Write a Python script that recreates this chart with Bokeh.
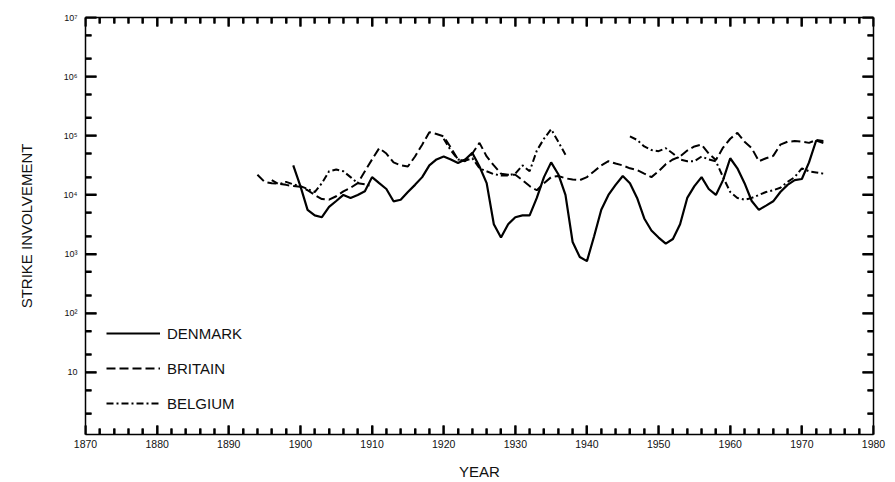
import math
from bokeh.plotting import figure
from bokeh.models import (FixedTicker, CustomJSTickFormatter, LinearAxis, LogAxis,
                          Legend, LegendItem, Range1d)
from bokeh.embed import file_html
from bokeh.resources import INLINE

# ---------------- data (strike involvement) ----------------
denmark_years = list(range(1899, 1974))
denmark_vals = [
    31600, 14100, 5600, 4500, 4200, 6300, 7900, 10000, 8900, 10000,   # 1899-1908
    11500, 20000, 15800, 12600, 7800, 8300, 11200, 14800, 20000, 31600,  # 1909-1918
    39800, 44700, 39800, 34700, 39800, 51300, 30200, 15800, 3200, 1900,  # 1919-1928
    3200, 4200, 4500, 4500, 8900, 20000, 35500, 22400, 10000, 1600,      # 1929-1938
    890, 760, 2000, 5600, 10000, 14800, 20900, 15800, 8900, 4000,        # 1939-1948
    2500, 1900, 1500, 1800, 3200, 8900, 14100, 20000, 12600, 10000,      # 1949-1958
    17800, 41700, 28200, 15800, 7900, 5600, 6600, 7800, 11200, 14800,    # 1959-1968
    17800, 18600, 35500, 83200, 75900,                                    # 1969-1973
]

britain_years = list(range(1894, 1974))
britain_vals = [
    21900, 16600, 15800, 15500, 14800, 14100,                             # 1894-1899
    13800, 12000, 10000, 8500, 8300, 9500, 11500, 13200, 15800, 25100,    # 1900-1909
    39800, 61700, 50100, 35500, 31600, 30200, 44700, 70800, 115000, 107000,  # 1910-1919
    97700, 63100, 39800, 37200, 50100, 75900, 44700, 31600, 22900, 21900,  # 1920-1929
    21900, 17800, 14100, 12000, 15800, 20000, 20900, 19100, 18200, 17800,  # 1930-1939
    20000, 25100, 31600, 37200, 33900, 31600, 28200, 26300, 22900, 20000,  # 1940-1949
    25100, 33100, 39800, 44700, 56200, 66100, 70800, 50100, 38900, 63100,  # 1950-1959
    89100, 112000, 79400, 61700, 37200, 41700, 45700, 70800, 79400, 81300,  # 1960-1969
    79400, 75900, 85100, 81300,                                           # 1970-1973
]

# Belgium: None marks years without data (the series has gaps)
belgium_years = list(range(1896, 1974))
belgium_vals = [
    17800, 15100, 16600, 15100,                                           # 1896-1899
    14100, 12600, 11200, 15800, 25100, 26900, 25100, 20000, 15800, 15100,  # 1900-1909
    14100, None, None, None, None, None, None, None, None, None,          # 1910-1919
    89100, 56200, 39800, 38000, 41700, 28200, 25100, 22400, 21400, 21400,  # 1920-1929
    22900, 31600, 25100, 56200, 89100, 129000, 79400, 47900, None, None,  # 1930-1939
    None, None, None, None, None, None, 97700, 85100, 66100, 57500,       # 1940-1949
    55000, 61700, 50100, 39800, 37200, 37200, 44700, 39800, 37200, 20000,  # 1950-1959
    11200, 8900, 8300, 8900, 10000, 11200, 12000, 13200, 16600, 20000,    # 1960-1969
    28200, 25100, 24000, 22900,                                           # 1970-1973
]

decades = [10, 100, 1000, 10000, 100000, 1000000, 10000000]
year_ticks = list(range(1870, 1981, 10))
year_minor = [y for y in range(1870, 1981, 2) if y % 10 != 0]
y_minor = []
for d in [1] + decades[:-1]:
    y_minor += [2 * d, 5 * d]

X_LO, X_HI = 1870, 1980
Y_LO, Y_HI = 0.89, 1e7

# ---------------- figure ----------------
FONT = "Liberation Sans"
W, H = 895, 482
B_L, B_R, B_T, B_B = 85, 22, 17, 48
p = figure(width=W, height=H, y_axis_type="log",
           x_range=Range1d(X_LO, X_HI), y_range=Range1d(Y_LO, Y_HI),
           output_backend="svg", toolbar_location=None,
           min_border_left=B_L, min_border_right=B_R, min_border_top=B_T, min_border_bottom=B_B)
p.grid.visible = False
p.outline_line_color = None

sup_fmt = CustomJSTickFormatter(code="""
const e = Math.round(Math.log10(tick));
const s = {2:'\u00b2',3:'\u00b3',4:'\u2074',5:'\u2075',6:'\u2076',7:'\u2077'};
return e == 1 ? '10' : '10' + (s[e] || '');
""")
blank_fmt = CustomJSTickFormatter(code="return '';")

x_ticker = FixedTicker(ticks=year_ticks, minor_ticks=year_minor)
y_ticker = FixedTicker(ticks=decades, minor_ticks=y_minor)

def style_axis(ax, major_in, minor_in):
    ax.axis_line_color = "black"
    ax.axis_line_width = 1.5
    ax.major_tick_in = major_in
    ax.major_tick_out = 0
    ax.minor_tick_in = minor_in
    ax.minor_tick_out = 0
    ax.major_tick_line_color = "black"
    ax.minor_tick_line_color = "black"
    ax.major_tick_line_width = 2
    ax.minor_tick_line_width = 2
    ax.major_label_text_font = FONT
    ax.major_label_text_color = "#111111"
    ax.axis_label_text_font = FONT
    ax.axis_label_text_font_style = "normal"
    ax.axis_label_text_color = "#111111"

xa = p.xaxis[0]
xa.ticker = x_ticker
style_axis(xa, 9, 6)
xa.major_label_text_font_size = "10.5px"
xa.major_label_standoff = 5
xa.axis_label = "YEAR"
xa.axis_label_text_font_size = "15px"
xa.axis_label_standoff = 12

ya = p.yaxis[0]
ya.ticker = y_ticker
ya.formatter = sup_fmt
style_axis(ya, 11, 6)
ya.major_label_text_font_size = "9px"
ya.major_label_standoff = 8
ya.axis_label = "STRIKE INVOLVEMENT"
ya.axis_label_text_font_size = "15px"
ya.axis_label_standoff = 26

ta = LinearAxis(ticker=x_ticker, formatter=blank_fmt)
style_axis(ta, 9, 6)
ta.major_label_text_font_size = "1px"
ta.major_label_standoff = 0
p.add_layout(ta, "above")
ra = LogAxis(ticker=y_ticker, formatter=blank_fmt)
style_axis(ra, 11, 6)
ra.major_label_text_font_size = "1px"
ra.major_label_standoff = 0
p.add_layout(ra, "right")

# ---------------- inward tick marks drawn as small filled bars at the tick values ----------------
px_per_year = (W - B_L - B_R) / (X_HI - X_LO)
px_per_decade = (H - B_T - B_B) / math.log10(Y_HI / Y_LO)
TW = 2  # tick thickness, px

def vticks(xs, length_px):
    f = 10 ** ((length_px / 2) / px_per_decade)
    n = len(xs)
    for yc in (Y_LO * f, Y_HI / f):
        p.rect(x=xs, y=[yc] * n, width=TW, height=length_px,
               width_units="screen", height_units="screen",
               fill_color="black", line_color=None)

def hticks(ys, length_px):
    d = (length_px / 2) / px_per_year
    n = len(ys)
    for xc in (X_LO + d, X_HI - d):
        p.rect(x=[xc] * n, y=ys, width=length_px, height=TW,
               width_units="screen", height_units="screen",
               fill_color="black", line_color=None)

vticks(year_ticks, 9)
vticks(year_minor, 6)
hticks(decades, 11)
hticks(y_minor, 6)

# ---------------- lines ----------------
r_dk = p.line(denmark_years, denmark_vals, line_color="black", line_width=2.2)
r_gb = p.line(britain_years, britain_vals, line_color="black", line_width=2.0, line_dash="9 4")

# split Belgium into its continuous runs
runs, cur = [], ([], [])
for yr, v in zip(belgium_years, belgium_vals):
    if v is None:
        if cur[0]:
            runs.append(cur)
        cur = ([], [])
    else:
        cur[0].append(yr)
        cur[1].append(v)
if cur[0]:
    runs.append(cur)
r_be = [p.line(xs, ys, line_color="black", line_width=2.0, line_dash="7 3 2 3") for xs, ys in runs]

legend = Legend(items=[LegendItem(label="DENMARK", renderers=[r_dk]),
                       LegendItem(label="BRITAIN", renderers=[r_gb]),
                       LegendItem(label="BELGIUM", renderers=[r_be[0]])],
                location=(21, 21), orientation="vertical",
                border_line_color=None, background_fill_alpha=0,
                padding=0, margin=0, spacing=15,
                glyph_width=54, glyph_height=20, label_height=20,
                label_standoff=7, label_text_font=FONT,
                label_text_font_size="15px", label_text_color="#111111")
p.add_layout(legend)

open("out.html", "w").write(file_html(p, INLINE))
